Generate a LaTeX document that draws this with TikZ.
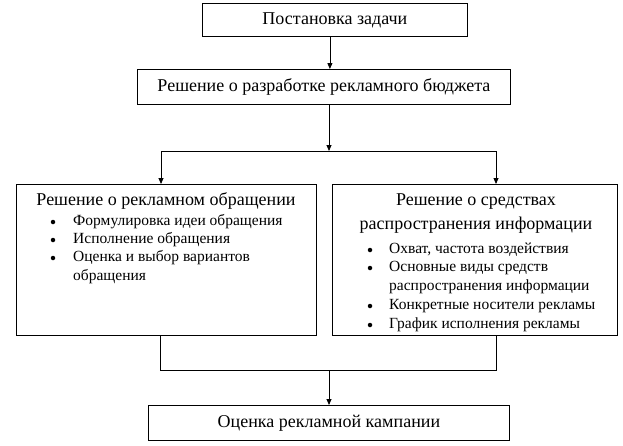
\documentclass[tikz,border=0pt]{standalone}
\usepackage{fontspec}
\setmainfont{Liberation Serif}
\usetikzlibrary{arrows.meta}
\begin{document}
\begin{tikzpicture}[x=1pt,y=-1pt,
  box/.style={draw, line width=0.8pt, inner sep=0pt, anchor=north west},
  conn/.style={line width=0.8pt},
  arr/.style={conn, -{Triangle[length=6pt,width=5pt]}},
  headfont/.style={font=\fontsize{18}{21}\selectfont},
  head/.style={headfont, inner sep=0pt},
  itemtxt/.style={font=\fontsize{15.5}{18}\selectfont, inner sep=0pt, anchor=west},
  dot/.style={circle, fill, inner sep=0pt, minimum size=4.5pt}]
\useasboundingbox (0,0) rectangle (623,445);
% boxes
\node[box, headfont, minimum width=265, minimum height=33] (b1) at (202,3) {Постановка задачи};
\node[box, headfont, minimum width=373, minimum height=35] (b2) at (137,69) {Решение о разработке рекламного бюджета};
\node[box, minimum width=300, minimum height=151] (b3) at (16,184) {};
\node[box, minimum width=285, minimum height=151] (b4) at (332,184) {};
\node[box, headfont, minimum width=361, minimum height=35] (b5) at (148,405) {Оценка рекламной кампании};
% left box text
\node[head] (h3) at (166,201) {Решение о рекламном обращении};
\node[dot] (d31) at (53,222) {};
\node[itemtxt] (t31) at (73,222) {Формулировка идеи обращения};
\node[dot] (d32) at (53,240) {};
\node[itemtxt] (t32) at (73,240) {Исполнение обращения};
\node[dot] (d33) at (53,258) {};
\node[itemtxt] (t33) at (73,258) {Оценка и выбор вариантов};
\node[itemtxt] (t34) at (73,277) {обращения};
% right box text
\node[head] (h41) at (476,202) {Решение о средствах};
\node[head] (h42) at (476,225) {распространения информации};
\node[dot] (d41) at (370,250) {};
\node[itemtxt] (t41) at (389,250) {Охват, частота воздействия};
\node[dot] (d42) at (370,268) {};
\node[itemtxt] (t42) at (389,268) {Основные виды средств};
\node[itemtxt] (t43) at (389,287) {распространения информации};
\node[dot] (d44) at (370,306) {};
\node[itemtxt] (t44) at (389,306) {Конкретные носители рекламы};
\node[dot] (d45) at (370,325) {};
\node[itemtxt] (t45) at (389,325) {График исполнения рекламы};
% junctions
\coordinate (j1) at (329,151);
\coordinate (l1) at (161,151);
\coordinate (r1) at (496,151);
\coordinate (j2) at (329,370);
\coordinate (l2) at (160,370);
\coordinate (r2) at (496,370);
% connectors
\draw[arr] ([xshift=-5pt]b1.south) -- ([xshift=-5pt]b1.south |- b2.north);
\draw[arr] (b2.south -| j1) -- (j1);
\draw[conn] (l1) -- (r1);
\draw[arr] (l1) -- (l1 |- b3.north);
\draw[arr] (r1) -- (r1 |- b4.north);
\draw[conn] (l2 |- b3.south) -- (l2) -- (r2) -- (r2 |- b4.south);
\draw[arr] (j2) -- (j2 |- b5.north);
\end{tikzpicture}
\end{document}
